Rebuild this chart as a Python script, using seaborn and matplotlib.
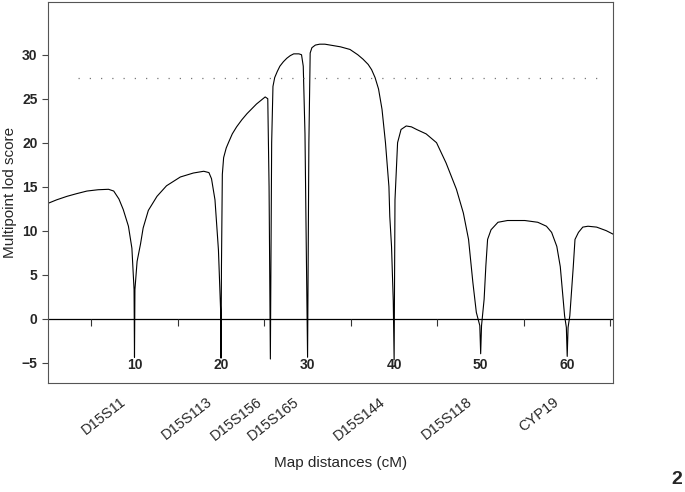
import matplotlib
matplotlib.use("Agg")
import matplotlib.pyplot as plt
import matplotlib.transforms as mtransforms
import pandas as pd
import seaborn as sns

# map position (cM) and multipoint lod score
map_pos = [0, 1, 2.2, 3.3, 4.5, 5.8, 7.0, 7.6, 8.2, 8.7, 9.3, 9.7, 9.95, 10.0, 10.05,
           10.3, 10.7, 11.0, 11.6, 12.6, 13.7, 15.3, 16.8, 18.0, 18.6, 18.9, 19.3, 19.7,
           19.95, 20.0, 20.05, 20.15, 20.3, 20.6, 20.9, 21.3, 21.8, 22.4, 23.0, 23.6,
           24.1, 24.6, 25.1, 25.4, 25.55, 25.7, 25.85, 26.0, 26.2, 26.5, 26.8, 27.2,
           27.6, 28.0, 28.4, 29.0, 29.3, 29.5, 29.7, 29.85, 30.0, 30.15, 30.3, 30.5,
           30.9, 31.4, 32.0, 32.6, 33.8, 34.9, 35.8, 36.4, 37.0, 37.4, 37.8, 38.2, 38.6,
           39.0, 39.4, 39.5, 39.7, 39.9, 40.0, 40.1, 40.4, 40.8, 41.4, 42.0, 42.6, 43.7,
           44.9, 46.0, 47.2, 48.0, 48.6, 49.1, 49.5, 49.9, 50.0, 50.1, 50.4, 50.6, 50.8,
           51.2, 52.0, 53.1, 55.1, 56.6, 57.6, 58.2, 58.8, 59.2, 59.7, 59.9, 60.0, 60.1,
           60.3, 60.7, 60.9, 61.3, 61.8, 62.4, 63.4, 64.5, 65.3]
lod = [13.1, 13.5, 13.9, 14.2, 14.5, 14.65, 14.7, 14.5, 13.6, 12.4, 10.5, 8.0, 3.3, -4.4, 3.3,
       6.5, 8.5, 10.3, 12.3, 13.9, 15.1, 16.1, 16.55, 16.75, 16.6, 15.9, 13.5, 7.8,
       1.0, -4.5, 6.0, 16.4, 18.3, 19.4, 20.1, 21.0, 21.8, 22.6, 23.3, 23.9,
       24.4, 24.8, 25.2, 25.0, 15.0, -4.6, 20.0, 26.4, 27.4, 28.1, 28.7, 29.2,
       29.6, 29.9, 30.1, 30.1, 30.0, 28.7, 21.0, 8.0, -4.4, 20.0, 30.2, 30.8,
       31.1, 31.2, 31.2, 31.1, 30.9, 30.6, 30.0, 29.5, 28.9, 28.3, 27.4, 26.1, 23.8,
       20.0, 15.0, 11.6, 8.2, 2.0, -4.7, 13.5, 20.0, 21.5, 21.9, 21.8, 21.5, 21.0,
       20.0, 17.7, 14.7, 12.0, 9.0, 4.1, 0.7, -0.8, -4.0, -0.8, 2.2, 6.0, 9.0,
       10.1, 10.95, 11.15, 11.15, 10.95, 10.5, 9.8, 8.2, 5.9, 0.3, -1.0, -4.3, -1.0,
       0.3, 5.9, 9.0, 9.8, 10.4, 10.5, 10.4, 10.0, 9.6]

markers = ["D15S11", "D15S113", "D15S156", "D15S165", "D15S144", "D15S118", "CYP19"]
marker_pos = [10, 20, 25.7, 30, 40, 50, 60]

x_major = [10, 20, 30, 40, 50, 60]
x_minor = [5, 15, 25, 35, 45, 55, 65]
y_ticks = [-5, 0, 5, 10, 15, 20, 25, 30]
threshold = 27.4
threshold_span = [3.5, 64.2]


def main():
    sns.set_style("ticks")
    plt.rcParams["font.family"] = ["Liberation Sans", "DejaVu Sans"]

    df = pd.DataFrame({"pos": map_pos, "lod": lod})

    fig, ax = plt.subplots(figsize=(6.85, 4.92), dpi=100)
    fig.subplots_adjust(left=0.070, right=0.895, top=0.996, bottom=0.222)

    sns.lineplot(data=df, x="pos", y="lod", sort=False, estimator=None,
                 color="black", linewidth=0.8, ax=ax)

    # sparse dotted threshold line
    ax.plot(threshold_span, [threshold, threshold], color="#777777",
            linewidth=0.9, linestyle=(0, (1, 8)))

    # zero line with little down ticks
    ax.axhline(0, color="black", linewidth=0.9)
    ax.vlines(x_minor, -0.9, 0, color="#333333", linewidth=0.8)

    ax.set_xlim(0, 65.3)
    ax.set_ylim(-7.3, 36)
    ax.set_yticks(y_ticks)
    ax.set_xticks(x_major)
    ax.tick_params(axis="x", length=0, pad=-18, labelsize=10)
    ax.tick_params(axis="y", length=4, width=0.8, labelsize=10, color="#444444")
    for lab in ax.get_xticklabels() + ax.get_yticklabels():
        lab.set_fontweight("bold")

    for sp in ax.spines.values():
        sp.set_visible(True)
        sp.set_color("#555555")
        sp.set_linewidth(0.8)

    ax.set_xlabel("")
    ax.set_ylabel("Multipoint lod score", fontsize=11, labelpad=3)

    # marker names under the axis
    trans = mtransforms.blended_transform_factory(ax.transData, ax.transAxes)
    for name, p in zip(markers, marker_pos):
        ax.text(p - 1.2, -0.045, name, transform=trans, rotation=38,
                rotation_mode="anchor", ha="right", va="center", fontsize=10.5)

    fig.text(0.497, 0.058, "Map distances (cM)", ha="center", va="center", fontsize=11)
    fig.text(0.988, 0.025, "2", ha="center", va="center", fontsize=14, fontweight="bold")

    fig.savefig("out.png", dpi=100)
    plt.close(fig)


if __name__ == "__main__":
    main()
